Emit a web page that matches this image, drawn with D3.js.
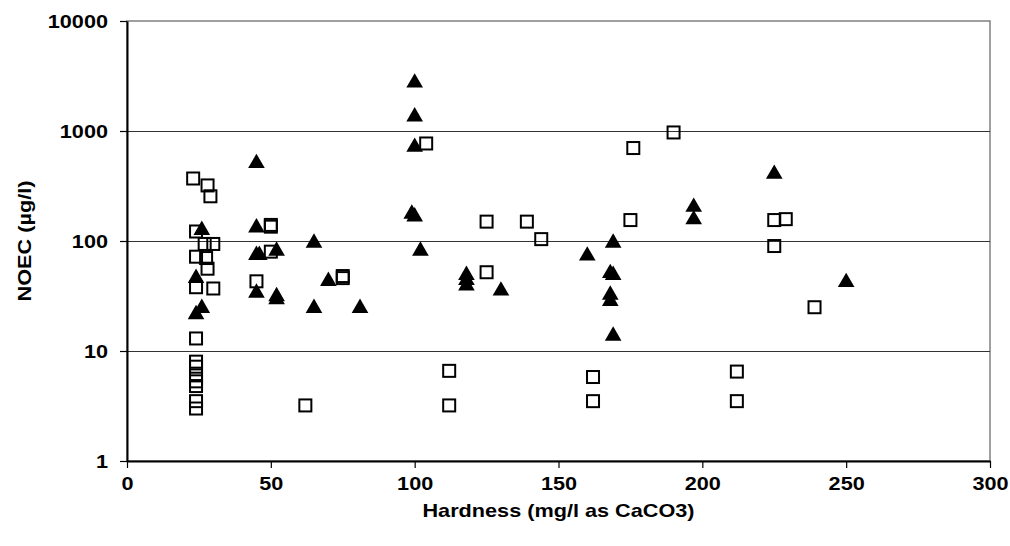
<!DOCTYPE html>
<html>
<head>
<meta charset="utf-8">
<script src="https://cdn.jsdelivr.net/npm/d3@7"></script>
<style>
  body { margin: 0; background: #fff; }
  svg { display: block; font-family: "Liberation Sans", Arial, sans-serif; }
</style>
</head>
<body>
<svg id="chart" width="1010" height="546"></svg>
<script>
// Open squares series (hardness mg/l, NOEC µg/l)
const squareX = [23, 28, 29, 24, 27, 30, 24, 27.5, 28, 24, 30, 24, 24, 24, 24, 24, 24, 24, 24,
  45, 50, 50, 50, 75, 75, 62, 104, 112, 112, 125, 125, 139, 144, 162, 162, 175, 176, 190, 212, 212, 225, 229, 225, 239];
const squareY = [370, 320, 255, 122, 94, 94, 72, 70, 56, 38, 37, 13, 8, 7.2, 6, 5.3, 4.8, 3.5, 3.0,
  43, 140, 135, 80, 48, 46, 3.2, 770, 6.6, 3.2, 150, 52, 150, 104, 5.8, 3.5, 155, 700, 970, 6.5, 3.5, 155, 158, 90, 25];

// Filled triangles series
const triX = [24, 26, 24, 26, 45, 45, 45, 46, 45, 52, 52, 52, 65, 65, 70, 81,
  100, 100, 100, 99, 100, 102, 118, 118, 118, 130, 160, 169, 168, 169, 168, 168, 169, 197, 197, 225, 250];
const triY = [22, 25, 47, 128, 520, 135, 76, 76, 34.5, 83, 32, 30, 98, 25, 44, 25,
  2800, 1380, 730, 180, 170, 83, 50, 45, 40, 36, 75, 98, 52, 50, 33, 29, 14, 208, 160, 415, 43];

const xTicks = [0, 50, 100, 150, 200, 250, 300];
const yTicks = [1, 10, 100, 1000, 10000];

const svg = d3.select("#chart");
const m = { left: 127, top: 21, right: 20, bottom: 85 };
const W = 1010, H = 546;
const pw = W - m.left - m.right, ph = H - m.top - m.bottom;

const x = d3.scaleLinear().domain([0, 300]).range([m.left, m.left + pw]);
const y = d3.scaleLog().domain([1, 10000]).range([m.top + ph, m.top]);

const FS = 19, STRETCH = 1.14;

// plot border (top and right)
svg.append("rect")
  .attr("x", m.left).attr("y", m.top).attr("width", pw).attr("height", ph)
  .attr("fill", "none").attr("stroke", "#808080").attr("stroke-width", 1.5);

// gridlines
svg.append("g").selectAll("line").data(yTicks.slice(1, -1)).join("line")
  .attr("x1", m.left).attr("x2", m.left + pw)
  .attr("y1", d => Math.round(y(d)) + 0.5).attr("y2", d => Math.round(y(d)) + 0.5)
  .attr("stroke", "#333").attr("stroke-width", 1);

// axes
const yAxis = d3.axisLeft(y).tickValues(yTicks).tickFormat(d3.format("d")).tickSizeInner(7).tickSizeOuter(0).tickPadding(12);
const xAxis = d3.axisBottom(x).tickValues(xTicks).tickFormat(d3.format("d")).tickSizeInner(7).tickSizeOuter(0).tickPadding(9);

const gy = svg.append("g").attr("transform", `translate(${m.left},0)`).call(yAxis);
const gx = svg.append("g").attr("transform", `translate(0,${m.top + ph})`).call(xAxis);
[gx, gy].forEach(g => {
  g.select(".domain").attr("stroke", "#000").attr("stroke-width", 2);
  g.selectAll(".tick line").attr("stroke", "#000").attr("stroke-width", 1.2);
  g.selectAll(".tick text").attr("fill", "#000").attr("font-size", FS).attr("font-weight", "bold")
    .attr("font-family", "Liberation Sans, Arial, sans-serif");
});

// markers
const sq = 12;
svg.append("g").selectAll("rect").data(squareX.map((d, i) => [d, squareY[i]])).join("rect")
  .attr("x", d => x(d[0]) - sq / 2).attr("y", d => y(d[1]) - sq / 2)
  .attr("width", sq).attr("height", sq)
  .attr("fill", "none").attr("stroke", "#000").attr("stroke-width", 2);

const tri = d3.symbol().type(d3.symbolTriangle).size(120);
svg.append("g").selectAll("path").data(triX.map((d, i) => [d, triY[i]])).join("path")
  .attr("d", tri)
  .attr("transform", d => `translate(${x(d[0])},${y(d[1]) + 1})`)
  .attr("fill", "#000");

// axis titles
svg.append("text")
  .attr("x", m.left + pw / 2).attr("y", 517)
  .attr("text-anchor", "middle").attr("font-size", FS).attr("font-weight", "bold")
  .text("Hardness (mg/l as CaCO3)");

svg.append("text")
  .attr("transform", `translate(31,${m.top + ph / 2}) rotate(-90)`)
  .attr("text-anchor", "middle").attr("font-size", FS).attr("font-weight", "bold")
  .text("NOEC (µg/l)");

// horizontal stretch of all labels to match the reference's wide lettering
svg.selectAll("text").each(function () {
  const L = this.getComputedTextLength();
  d3.select(this).attr("textLength", L * STRETCH).attr("lengthAdjust", "spacingAndGlyphs");
});
</script>
</body>
</html>
